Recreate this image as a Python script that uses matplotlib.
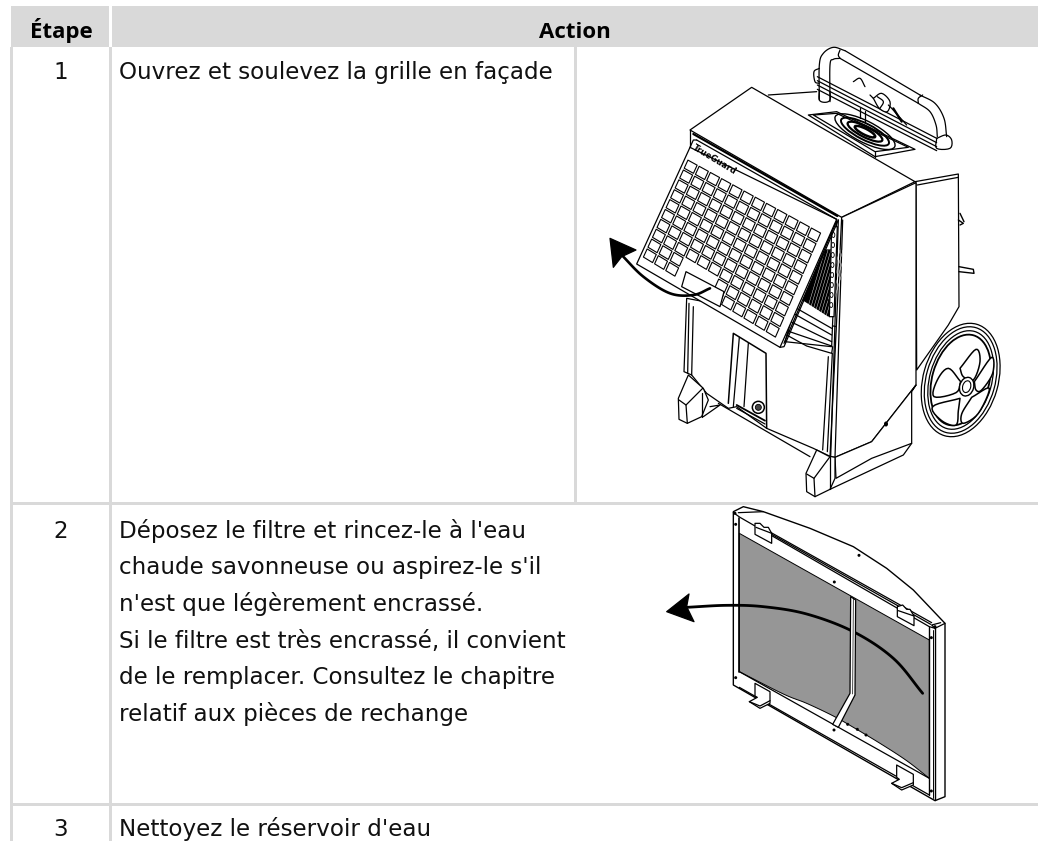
import numpy as np
import matplotlib
matplotlib.use("Agg")
import matplotlib.pyplot as plt
from matplotlib.patches import Polygon, Rectangle, Ellipse

# ---- table content ----
HEADERS = ["Étape", "Action"]
STEPS = ["1", "2", "3"]
STEP_1 = ["Ouvrez et soulevez la grille en façade"]
STEP_2 = ["Déposez le filtre et rincez-le à l'eau",
          "chaude savonneuse ou aspirez-le s'il",
          "n'est que légèrement encrassé.",
          "Si le filtre est très encrassé, il convient",
          "de le remplacer. Consultez le chapitre",
          "relatif aux pièces de rechange"]
STEP_3 = ["Nettoyez le réservoir d'eau"]
BASE_1 = [79]
BASE_2 = [538, 574, 611, 648, 684, 721]
BASE_3 = [836]

W, H = 1038, 841
GRID = "#d9d9d9"
fig = plt.figure(figsize=(W / 100, H / 100), dpi=100)
ax = fig.add_axes([0, 0, 1, 1])
ax.set_xlim(0, W)
ax.set_ylim(H, 0)
ax.axis("off")


def rect(x0, y0, x1, y1, c=GRID, z=1):
    ax.add_patch(Rectangle((x0, y0), x1 - x0, y1 - y0, fc=c, ec="none", zorder=z))


# table frame
rect(11, 6, 109, 47)
rect(112, 6, W, 47)
rect(10, 47, 13, H)
rect(109, 47, 112, H)
rect(574, 47, 577, 502)
rect(10, 502, W, 505)
rect(10, 803, W, 806)

TXT = dict(family="DejaVu Sans", fontsize=16.6, color="#111111", va="baseline", zorder=2)
HDR = dict(family="Open Sans", fontsize=16, fontweight="bold", color="#000000",
           va="baseline", ha="center", zorder=2)
ax.text(61, 38, HEADERS[0], **HDR)
ax.text(574.5, 38, HEADERS[1], **HDR)
for s, y in zip(STEPS, [BASE_1[0], BASE_2[0], BASE_3[0]]):
    ax.text(60.5, y, s, ha="center", **TXT)
for lines, bases in [(STEP_1, BASE_1), (STEP_2, BASE_2), (STEP_3, BASE_3)]:
    for t, y in zip(lines, bases):
        ax.text(119, y, t, **TXT)


# ---- line art helpers (crop coordinates -> picture pixels) ----
def zc(ox, oy, pts):
    return [(ox + x / 3, oy + y / 3) for x, y in pts]


def line(ox, oy, pts, lw=0.9, z=5, c="black"):
    p = np.array(zc(ox, oy, pts))
    ax.plot(p[:, 0], p[:, 1], color=c, lw=lw, zorder=z, solid_capstyle="round", solid_joinstyle="round")


def poly(ox, oy, pts, fc="white", ec="black", lw=0.9, z=5):
    ax.add_patch(Polygon(zc(ox, oy, pts), closed=True, fc=fc, ec=ec, lw=lw, zorder=z, joinstyle="round"))


def smooth(pts, n=12):
    """Catmull-Rom through traced points."""
    P = np.array(pts, float)
    P = np.vstack([2 * P[0] - P[1], P, 2 * P[-1] - P[-2]])
    out = []
    for i in range(1, len(P) - 2):
        for t in np.linspace(0, 1, n, endpoint=False):
            out.append(0.5 * ((2 * P[i]) + (-P[i - 1] + P[i + 1]) * t
                              + (2 * P[i - 1] - 5 * P[i] + 4 * P[i + 1] - P[i + 2]) * t ** 2
                              + (-P[i - 1] + 3 * P[i] - 3 * P[i + 1] + P[i + 2]) * t ** 3))
    out.append(P[-2])
    return [tuple(q) for q in out]


# ---- dehumidifier (crop origin 580,60) ----
A = (580, 60)
# rear body
poly(*A, [(1005, 365), (1135, 342), (1137, 740), (1105, 795), (1010, 930), (1008, 368)], z=3)
line(*A, [(1012, 375), (1135, 352)])
line(*A, [(1135, 480), (1150, 490), (1140, 495)], lw=1.0)
line(*A, [(1137, 620), (1180, 628), (1182, 640), (1137, 635)], lw=1.0)
line(*A, [(1140, 460), (1152, 485)], lw=1.0)
# top lid
poly(*A, [(330, 210), (515, 82), (1005, 365), (785, 472)], z=3)
line(*A, [(565, 105), (710, 95)])
line(*A, [(340, 222), (772, 468)], lw=1.6, z=4)
line(*A, [(330, 210), (330, 262)], z=4)
# side panel
poly(*A, [(785, 472), (1008, 368), (1008, 975), (875, 1145), (765, 1192), (750, 1190)], z=4)
line(*A, [(775, 480), (752, 1190)])
line(*A, [(788, 480), (765, 1192)])
poly(*A, [(1008, 975), (995, 995), (995, 1150), (875, 1195), (768, 1255), (765, 1192), (875, 1145)], z=4)
line(*A, [(995, 1150), (970, 1185), (750, 1288)])
ax.add_patch(Ellipse((580 + 918 / 3, 60 + 1092 / 3), 4, 5, fc="black", ec="none", zorder=6))
# front lower body
poly(*A, [(320, 715), (770, 800), (752, 1190), (700, 1165), (560, 1105), (470, 1040), (445, 1045),
          (380, 1000), (335, 945), (312, 935)], z=3)
line(*A, [(340, 740), (335, 945)])
line(*A, [(327, 730), (323, 940)])
line(*A, [(745, 890), (728, 1170)])
line(*A, [(757, 880), (742, 1175)])
# service door
line(*A, [(445, 1030), (460, 820), (558, 880), (560, 1105)], lw=1.1)
line(*A, [(460, 1040), (478, 832)])
line(*A, [(492, 1040), (505, 850)])
line(*A, [(470, 1035), (555, 1082)], lw=1.3)
line(*A, [(470, 1045), (555, 1092)])
ax.add_patch(Ellipse((580 + 535 / 3, 60 + 1042 / 3), 12, 12, fc="white", ec="black", lw=1.1, zorder=6))
ax.add_patch(Ellipse((580 + 535 / 3, 60 + 1042 / 3), 6, 6, fc="#444444", ec="black", lw=0.6, zorder=6))
# base bar
line(*A, [(415, 1030), (690, 1190)])
line(*A, [(390, 1040), (420, 1035), (370, 1070)])
# feet
poly(*A, [(325, 945), (295, 1015), (297, 1078), (322, 1090), (365, 1070), (385, 1020), (370, 985)], z=6)
line(*A, [(297, 1020), (318, 1035), (368, 985)], z=7)
line(*A, [(318, 1035), (322, 1090)], z=7)
line(*A, [(365, 1000), (365, 1070)], z=7)
poly(*A, [(710, 1170), (678, 1240), (680, 1295), (705, 1310), (750, 1288), (765, 1255), (765, 1192),
          (745, 1188)], z=6)
line(*A, [(680, 1242), (702, 1255), (750, 1190)], z=7)
line(*A, [(702, 1255), (705, 1310)], z=7)
line(*A, [(750, 1190), (750, 1288)], z=7)
# opening behind the grille
poly(*A, [(770, 480), (755, 860), (615, 845), (640, 760)], z=5)
poly(*A, [(735, 570), (670, 720), (745, 768), (755, 570)], fc="black", ec="black", z=6)
for x0 in range(675, 750, 9):
    line(*A, [(x0, 770), (x0 + 60, 570)], lw=0.3, z=7, c="white")
poly(*A, [(755, 500), (772, 500), (762, 770), (748, 770)], z=7)
for yy in range(525, 760, 30):
    ax.add_patch(Ellipse((580 + (760 - (yy - 525) * 0.03) / 3, 60 + yy / 3), 3, 5, fc="white", ec="black",
                         lw=0.6, zorder=8))
ax.add_patch(Ellipse((580 + 744 / 3, 60 + 720 / 3), 1.6, 2, fc="black", ec="none", zorder=8))
line(*A, [(650, 745), (755, 805)], z=7)
line(*A, [(640, 760), (755, 825)], z=7)
line(*A, [(632, 785), (755, 845)], z=7)
line(*A, [(620, 812), (755, 858)], z=7)
line(*A, [(620, 825), (680, 858), (755, 880), (758, 860)], z=7)
# grille panel
poly(*A, [(330, 262), (770, 478), (600, 862), (170, 612)], z=9)
line(*A, [(350, 240), (770, 478)], z=9)
line(*A, [(330, 262), (340, 240), (350, 240)], z=9)
line(*A, [(768, 488), (612, 850)], z=10)
line(*A, [(775, 480), (612, 860), (600, 862)], z=10)
TL, TR, BR, BL = [np.array(p, float) for p in [(322, 296), (726, 518), (588, 836), (186, 592)]]
NC, NR = 12, 10
for r in range(NR):
    for c in range(NC):
        # skip the handle recess
        if r >= NR - 2 and 3 <= c <= 5:
            continue
        u0, u1 = (c + .09) / NC, (c + .91) / NC
        v0, v1 = (r + .09) / NR, (r + .91) / NR
        q = []
        for u, v in [(u0, v0), (u1, v0), (u1, v1), (u0, v1)]:
            q.append(tuple(TL * (1 - u) * (1 - v) + TR * u * (1 - v) + BR * u * v + BL * (1 - u) * v))
        poly(*A, q, z=10, lw=0.8)
poly(*A, [(318, 635), (432, 695), (420, 740), (305, 680)], z=11)
ax.text(580 + 403 / 3, 60 + 298 / 3, "TrueGuard", fontsize=6, fontweight="bold", family="DejaVu Sans",
        rotation=-31, rotation_mode="anchor", ha="center", va="center", zorder=11)
# arrow
arr = smooth([(390, 685), (340, 705), (270, 700), (190, 650), (125, 585)])
line(*A, arr, lw=1.9, z=12)
poly(*A, [(90, 535), (168, 570), (125, 590), (100, 622)], fc="black", z=12)
# wheel
wx, wy = 580 + 1142 / 3, 60 + 960 / 3
for ww, hh, lw_ in [(75, 116, 0.9), (69, 109, 0.9), (62, 101, 0.9), (57, 93, 1.3)]:
    ax.add_patch(Ellipse((wx, wy), ww, hh, angle=16, fc="white", ec="black", lw=lw_, zorder=4))
SP1 = [(1140, 925), (1188, 868), (1200, 905), (1180, 960), (1150, 950)]
SP2 = [(1183, 965), (1235, 892), (1238, 940), (1205, 990), (1188, 990)]
SP3 = [(1175, 1012), (1228, 985), (1195, 1060), (1150, 1090), (1145, 1062)]
SP4 = [(1140, 1015), (1058, 1040), (1085, 1082), (1128, 1095), (1135, 1052)]
SP5 = [(1142, 965), (1105, 925), (1072, 960), (1062, 1010), (1128, 998)]
for s in [SP1, SP2, SP3, SP4, SP5]:
    poly(*A, smooth(s + [s[0]], 6), z=5, lw=1.1)
ax.add_patch(Ellipse((580 + 1160 / 3, 60 + 980 / 3), 14, 19, angle=16, fc="white", ec="black", lw=1.0, zorder=6))
ax.add_patch(Ellipse((580 + 1160 / 3, 60 + 980 / 3), 8, 12, angle=16, fc="white", ec="black", lw=0.8, zorder=6))
# handle (crop origin 790,40)
B = (790, 40)
line(*B, smooth([(88, 180), (88, 75), (100, 40), (130, 22), (165, 32)]), z=3)
line(*B, smooth([(120, 185), (120, 75), (130, 58), (150, 55)]), z=3)
line(*B, [(165, 32), (390, 165)], z=3)
line(*B, [(150, 55), (385, 190)], z=3)
line(*B, smooth([(390, 165), (435, 190), (462, 235), (470, 290)]), z=3)
line(*B, smooth([(385, 190), (420, 215), (438, 255), (442, 290)]), z=3)
line(*B, smooth([(150, 30), (145, 45), (150, 55)]), z=3)
line(*B, smooth([(385, 190), (385, 175), (398, 165)]), z=3)
line(*B, smooth([(88, 85), (72, 95), (75, 125), (88, 130)]), z=4)
# grab bars
for y0, y1 in [(110, 295), (122, 308), (135, 320), (148, 332)]:
    line(*B, [(82, y0), (440, y1)], z=4)
line(*B, smooth([(190, 125), (210, 115), (225, 140)]), z=3)
line(*B, [(210, 205), (210, 235)], z=3)
line(*B, [(225, 212), (225, 245)], z=3)
poly(*B, smooth([(250, 175), (275, 160), (300, 185), (292, 215), (268, 205), (250, 175)], 5), z=6)
line(*B, smooth([(262, 170), (280, 185), (270, 205)]), z=7)
line(*B, [(240, 165), (250, 175)], z=7)
line(*B, [(295, 195), (305, 205), (350, 255)], z=7)
line(*B, [(310, 205), (335, 245)], lw=1.6, z=7)
line(*B, smooth([(440, 295), (468, 285), (485, 300), (480, 325), (440, 325), (440, 295)], 5), z=7)
line(*B, smooth([(88, 150), (88, 180), (105, 187), (120, 180), (120, 155)], 5), z=7)
# vent (crop origin 580,60)
poly(*A, [(685, 165), (770, 155), (1005, 268), (885, 290)], z=6)
poly(*A, [(700, 165), (770, 160), (985, 262), (885, 275)], z=6)
for rx, ry, lw in [(100, 32, 1.0), (80, 24, 1.4), (58, 16, 1.6), (34, 9, 1.8)]:
    ax.add_patch(Ellipse((580 + 855 / 3, 60 + 215 / 3), rx * 2 / 3, ry * 2 / 3, angle=27, fc="none",
                         ec="black", lw=lw, zorder=7))
line(*A, [(885, 290), (885, 275)], z=7)

# ---- filter (crop origin 620,490) ----
C = (620, 490)
poly(*C, [(340, 65), (370, 50), (430, 65), (570, 115), (700, 170), (800, 235), (880, 300), (975, 400),
          (975, 920), (945, 932), (340, 585)], z=4, lw=1.0)
gray = smooth([(928, 865), (860, 812), (780, 760), (700, 712), (640, 678), (560, 640), (490, 612), (358, 545)], 6)
poly(*C, [(358, 130), (928, 450)] + gray, fc="#969696", ec="black", z=5, lw=0.7)
line(*C, [(358, 85), (358, 545)], lw=1.2, z=6)
line(*C, [(340, 68), (360, 82), (928, 410)], z=6)
line(*C, [(450, 130), (932, 403)], z=6)
line(*C, [(450, 126), (935, 398)], z=6)
line(*C, [(358, 545), (928, 865)], z=6)
line(*C, [(358, 592), (928, 915)], z=6)
line(*C, [(928, 410), (928, 915)], lw=1.0, z=6)
line(*C, [(945, 415), (945, 930)], lw=1.0, z=6)
line(*C, [(938, 420), (938, 925)], lw=0.7, z=6)
line(*C, [(928, 410), (945, 415), (975, 400)], z=6)
line(*C, [(945, 415), (935, 405), (962, 398)], z=6)
line(*C, [(355, 68), (430, 65)], z=6)
# centre strap
poly(*C, [(692, 320), (707, 330), (705, 615), (655, 712), (638, 703), (690, 610)], z=7, lw=0.9)
line(*C, [(700, 325), (698, 612)], lw=0.5, z=7)
# clips
poly(*C, [(405, 100), (420, 100), (432, 112), (445, 112), (455, 130), (455, 160), (405, 133)], z=7)
line(*C, [(408, 112), (455, 130)], z=7)
poly(*C, [(832, 350), (848, 345), (860, 358), (870, 358), (882, 378), (882, 407), (832, 380)], z=7)
line(*C, [(835, 362), (882, 378)], z=7)
poly(*C, [(405, 580), (450, 605), (450, 640), (420, 655), (388, 635), (412, 622), (405, 618)], z=7)
line(*C, [(388, 635), (420, 648), (450, 632)], z=7)
poly(*C, [(830, 825), (880, 853), (880, 885), (845, 900), (815, 880), (838, 868), (830, 862)], z=7)
line(*C, [(815, 880), (845, 893), (880, 878)], z=7)
DOTS = [(717, 196), (643, 276), (347, 103), (347, 563), (934, 443), (934, 903), (642, 720), (683, 703),
        (712, 718), (738, 735), (345, 70), (945, 410)]
for x, y in DOTS:
    ax.add_patch(Ellipse((620 + x / 3, 490 + y / 3), 3, 3, fc="black", ec="none", zorder=7))
# arrow (drawn over the grey, under the strap)
arr2 = smooth([(908, 610), (820, 505), (700, 425), (560, 372), (430, 350), (320, 346), (200, 352)])
line(*C, arr2, lw=2.0, z=6.5)
poly(*C, [(140, 365), (207, 312), (200, 350), (222, 395)], fc="black", z=8)

fig.savefig("out.png", dpi=100)
